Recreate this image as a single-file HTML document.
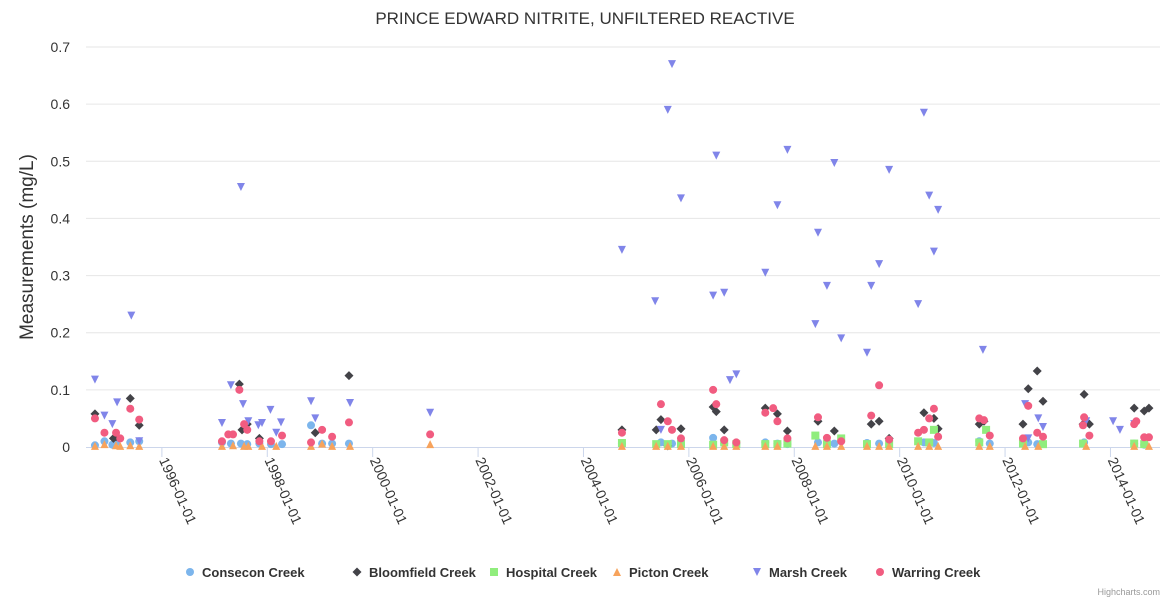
<!DOCTYPE html>
<html><head><meta charset="utf-8">
<style>
html,body{margin:0;padding:0;background:#fff;}
svg{display:block;font-family:"Liberation Sans","DejaVu Sans",sans-serif;}
</style></head>
<body>
<svg id="chart" width="1170" height="600">
  <text x="585" y="24" text-anchor="middle" font-size="17" fill="#333">PRINCE EDWARD NITRITE, UNFILTERED REACTIVE</text>
  <text transform="translate(33,247) rotate(-90)" text-anchor="middle" font-size="19" fill="#333">Measurements (mg/L)</text>
  <g id="grid"></g><g id="xaxis"></g><g id="series"></g><g id="legend"></g>
  <text x="1160" y="595" text-anchor="end" font-size="9" fill="#999">Highcharts.com</text>
</svg>
<script>
const yTicks = [0,0.1,0.2,0.3,0.4,0.5,0.6,0.7];
const yTickLabels = ["0","0.1","0.2","0.3","0.4","0.5","0.6","0.7"];
const xTicks = [1996,1998,2000,2002,2004,2006,2008,2010,2012,2014];
const xTickLabels = ["1996-01-01","1998-01-01","2000-01-01","2002-01-01","2004-01-01","2006-01-01","2008-01-01","2010-01-01","2012-01-01","2014-01-01"];
const seriesNames = ["Consecon Creek","Bloomfield Creek","Hospital Creek","Picton Creek","Marsh Creek","Warring Creek"];

const consecon = [[1994.73,0.003],[1994.91,0.01],[1995.06,0.004],[1995.13,0.008],[1995.40,0.008],[1995.57,0.01],[1997.14,0.008],[1997.31,0.006],[1997.50,0.006],[1997.62,0.005],[1997.85,0.006],[1998.07,0.005],[1998.28,0.005],[1998.83,0.038],[1999.04,0.006],[1999.23,0.006],[1999.55,0.006],[2004.73,0.006],[2005.47,0.008],[2005.68,0.006],[2005.85,0.004],[2006.46,0.016],[2006.67,0.006],[2006.90,0.006],[2007.45,0.008],[2007.68,0.006],[2007.87,0.005],[2008.45,0.008],[2008.76,0.006],[2009.38,0.007],[2009.61,0.006],[2010.46,0.008],[2010.65,0.007],[2011.51,0.01],[2011.71,0.006],[2012.44,0.008],[2012.61,0.005],[2013.50,0.008],[2014.45,0.006],[2014.64,0.004]];
const bloomfield = [[1994.73,0.058],[1995.08,0.015],[1995.13,0.018],[1995.40,0.085],[1995.57,0.038],[1997.47,0.11],[1997.52,0.03],[1997.62,0.04],[1997.85,0.015],[1998.91,0.025],[1999.55,0.125],[2004.73,0.03],[2005.38,0.03],[2005.47,0.048],[2005.60,0.002],[2005.85,0.032],[2006.46,0.07],[2006.52,0.062],[2006.67,0.03],[2007.45,0.068],[2007.68,0.058],[2007.87,0.028],[2008.45,0.045],[2008.76,0.028],[2009.46,0.04],[2009.61,0.045],[2009.80,0.015],[2010.46,0.06],[2010.65,0.05],[2010.73,0.032],[2011.51,0.04],[2011.60,0.045],[2012.34,0.04],[2012.44,0.102],[2012.61,0.133],[2012.72,0.08],[2013.48,0.04],[2013.50,0.092],[2013.60,0.04],[2014.45,0.068],[2014.64,0.063],[2014.73,0.068]];
const hospital = [[2004.73,0.007],[2005.38,0.005],[2005.60,0.005],[2005.85,0.005],[2006.46,0.004],[2006.67,0.008],[2006.90,0.005],[2007.45,0.005],[2007.68,0.005],[2007.87,0.006],[2008.40,0.02],[2008.62,0.005],[2008.89,0.015],[2009.38,0.005],[2009.80,0.005],[2010.35,0.01],[2010.56,0.008],[2010.65,0.03],[2011.51,0.008],[2011.64,0.03],[2012.34,0.006],[2012.72,0.005],[2013.48,0.006],[2014.45,0.006],[2014.64,0.005]];
const picton = [[1994.73,0.002],[1994.91,0.005],[1995.13,0.003],[1995.21,0.002],[1995.40,0.003],[1995.57,0.002],[1997.14,0.002],[1997.35,0.003],[1997.56,0.002],[1997.64,0.002],[1997.90,0.002],[1998.17,0.002],[1998.83,0.002],[1999.04,0.006],[1999.23,0.002],[1999.57,0.002],[2001.09,0.005],[2004.73,0.002],[2005.38,0.002],[2005.60,0.002],[2005.85,0.002],[2006.46,0.002],[2006.67,0.002],[2006.90,0.002],[2007.45,0.002],[2007.68,0.002],[2008.40,0.002],[2008.62,0.002],[2008.89,0.002],[2009.38,0.002],[2009.61,0.002],[2009.80,0.002],[2010.35,0.002],[2010.56,0.002],[2010.73,0.002],[2011.51,0.002],[2011.71,0.002],[2012.38,0.002],[2012.63,0.002],[2013.54,0.002],[2014.45,0.002],[2014.73,0.002]];
const marsh = [[1994.73,0.118],[1994.91,0.055],[1995.06,0.04],[1995.15,0.078],[1995.42,0.23],[1995.57,0.01],[1997.14,0.042],[1997.31,0.108],[1997.50,0.455],[1997.54,0.075],[1997.64,0.045],[1997.83,0.038],[1997.90,0.042],[1998.06,0.065],[1998.17,0.025],[1998.26,0.043],[1998.83,0.08],[1998.91,0.05],[1999.57,0.077],[2001.09,0.06],[2004.73,0.345],[2005.36,0.255],[2005.47,0.03],[2005.60,0.59],[2005.68,0.67],[2005.85,0.435],[2006.46,0.265],[2006.52,0.51],[2006.67,0.27],[2006.78,0.117],[2006.90,0.127],[2007.45,0.305],[2007.68,0.423],[2007.87,0.52],[2008.40,0.215],[2008.45,0.375],[2008.62,0.282],[2008.76,0.497],[2008.89,0.19],[2009.38,0.165],[2009.46,0.282],[2009.61,0.32],[2009.80,0.485],[2010.35,0.25],[2010.46,0.585],[2010.56,0.44],[2010.65,0.342],[2010.73,0.415],[2011.58,0.17],[2012.38,0.075],[2012.44,0.015],[2012.63,0.05],[2012.72,0.035],[2013.54,0.045],[2014.05,0.045],[2014.18,0.03],[2014.45,0.04]];
const warring = [[1994.73,0.05],[1994.91,0.025],[1995.13,0.025],[1995.21,0.015],[1995.40,0.067],[1995.57,0.048],[1997.14,0.01],[1997.26,0.022],[1997.35,0.022],[1997.47,0.1],[1997.56,0.04],[1997.62,0.03],[1997.85,0.01],[1998.07,0.01],[1998.28,0.02],[1998.83,0.008],[1999.04,0.03],[1999.23,0.018],[1999.55,0.043],[2001.09,0.022],[2004.73,0.025],[2005.47,0.075],[2005.60,0.045],[2005.68,0.03],[2005.85,0.015],[2006.46,0.1],[2006.52,0.075],[2006.67,0.012],[2006.90,0.008],[2007.45,0.06],[2007.60,0.068],[2007.68,0.045],[2007.87,0.015],[2008.45,0.052],[2008.62,0.016],[2008.89,0.01],[2009.46,0.055],[2009.61,0.108],[2009.80,0.013],[2010.35,0.025],[2010.46,0.03],[2010.56,0.05],[2010.65,0.067],[2010.73,0.018],[2011.51,0.05],[2011.60,0.047],[2011.71,0.02],[2012.34,0.015],[2012.44,0.072],[2012.61,0.025],[2012.72,0.018],[2013.48,0.038],[2013.50,0.052],[2013.60,0.02],[2014.45,0.04],[2014.49,0.045],[2014.64,0.017],[2014.73,0.017]];

const NS="http://www.w3.org/2000/svg";
const L=86,R=1160,T=47,B=447;
const xMin=1994.56,xMax=2014.94,yMax=0.7;
function xs(v){return L+(v-xMin)/(xMax-xMin)*(R-L);}
function ys(v){return B-v/yMax*(B-T);}
function mk(tag,attrs,parent){const e=document.createElementNS(NS,tag);for(const k in attrs)e.setAttribute(k,attrs[k]);parent.appendChild(e);return e;}

const grid=document.getElementById('grid');
yTicks.forEach((t,i)=>{
  if(i>0){const g=mk('line',{x1:L,x2:R,y1:ys(t),y2:ys(t),stroke:'#e6e6e6','stroke-width':1},grid);
  
  }
  const tx=mk('text',{x:70,y:ys(t)+5,'text-anchor':'end','font-size':14,fill:'#333'},grid);
  tx.textContent=yTickLabels[i];
  
  
});
const xa=document.getElementById('xaxis');
const axl=mk('line',{x1:L,x2:R,y1:B+0.5,y2:B+0.5,stroke:'#ccd6eb','stroke-width':1},xa);


xTicks.forEach((t,i)=>{
  const x=xs(t);
  const tk=mk('line',{x1:x,x2:x,y1:B,y2:B+10,stroke:'#ccd6eb'},xa);
  
  
  const tx=mk('text',{transform:`translate(${x-3},${B+13}) rotate(66)`,'font-size':14,fill:'#333'},xa);
  tx.textContent=xTickLabels[i];
  
  
});

const colors=["#7cb5ec","#434348","#90ed7d","#f7a35c","#8085e9","#f15c80"];
const shapes=["circle","diamond","square","triangle","triangle-down","circle"];
function marker(shape,x,y,c,p){
  if(shape==="circle")return mk('circle',{cx:x,cy:y,r:4,fill:c},p);
  if(shape==="square")return mk('rect',{x:x-4,y:y-4,width:8,height:8,fill:c},p);
  if(shape==="diamond")return mk('path',{d:`M${x},${y-4.5}L${x+4.5},${y}L${x},${y+4.5}L${x-4.5},${y}Z`,fill:c},p);
  if(shape==="triangle")return mk('path',{d:`M${x},${y-4}L${x+4},${y+4}L${x-4},${y+4}Z`,fill:c},p);
  return mk('path',{d:`M${x-4},${y-4}L${x+4},${y-4}L${x},${y+4}Z`,fill:c},p);
}
const allData=[consecon,bloomfield,hospital,picton,marsh,warring];
const sg=document.getElementById('series');
allData.forEach((d,si)=>{
  const g=mk('g',{},sg);
  
  
  d.forEach(p=>{
    const m=marker(shapes[si],xs(p[0]),ys(p[1]),colors[si],g);
    
    
  });
});
const lg=document.getElementById('legend');
const lx=[190,357,494,617,757,880];
seriesNames.forEach((n,i)=>{
  const g=mk('g',{},lg);
  
  
  marker(shapes[i],lx[i],572,colors[i],g);
  const t=mk('text',{x:lx[i]+12,y:577,'font-size':13,'font-weight':'bold',fill:'#333'},g);
  t.textContent=n;
});
</script>
</body></html>
